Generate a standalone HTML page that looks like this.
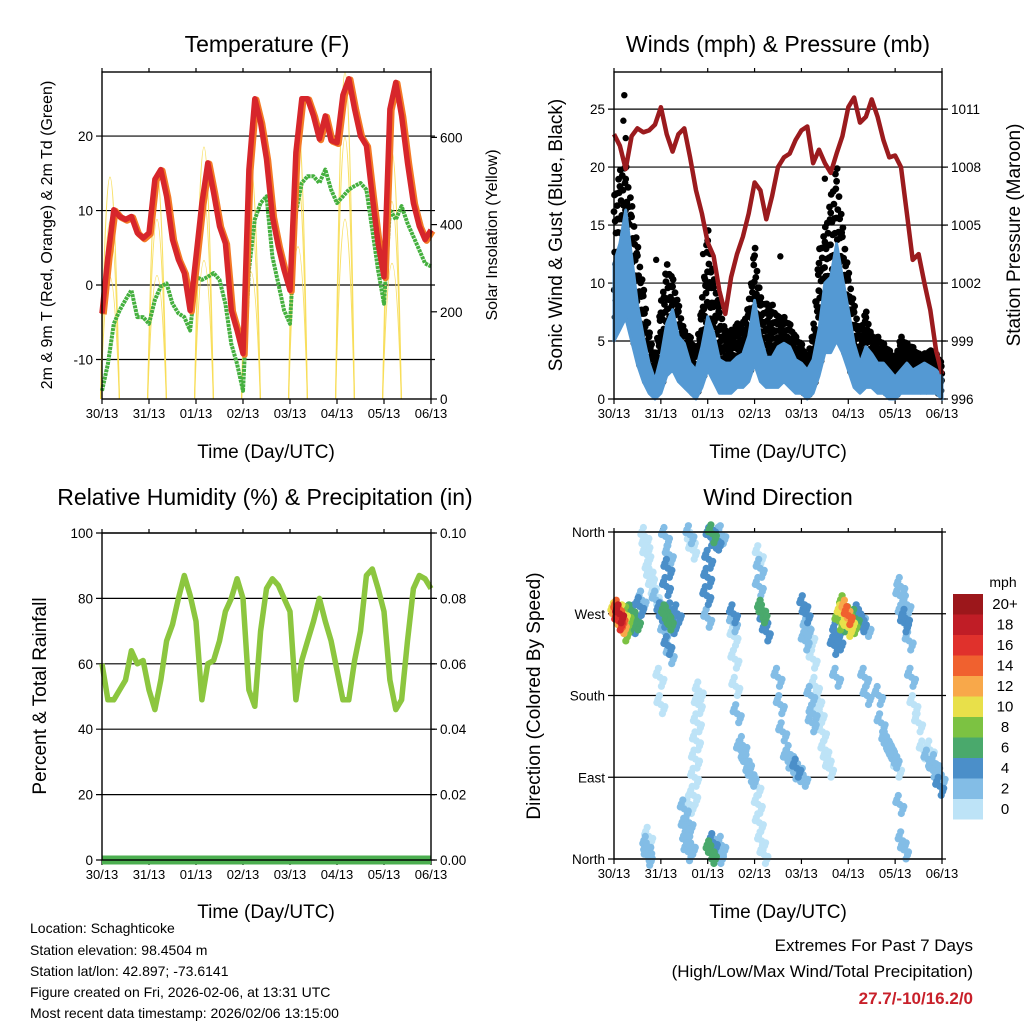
<!DOCTYPE html>
<html><head><meta charset="utf-8"><style>
html,body{margin:0;padding:0;background:#fff;}
svg{display:block;font-family:"Liberation Sans",sans-serif;}
</style></head><body>
<svg id="chart" width="1024" height="1024" viewBox="0 0 1024 1024" xmlns="http://www.w3.org/2000/svg">
<rect width="1024" height="1024" fill="#fff"/>
<text x="267" y="52" font-size="23" text-anchor="middle">Temperature (F)</text>
<text x="778" y="52" font-size="23" text-anchor="middle">Winds (mph) &amp; Pressure (mb)</text>
<text x="265" y="505" font-size="23" text-anchor="middle">Relative Humidity (%) &amp; Precipitation (in)</text>
<text x="778" y="505" font-size="23" text-anchor="middle">Wind Direction</text>
<text x="266" y="458" font-size="19" text-anchor="middle">Time (Day/UTC)</text>
<text x="778" y="458" font-size="19" text-anchor="middle">Time (Day/UTC)</text>
<text x="266" y="918" font-size="19" text-anchor="middle">Time (Day/UTC)</text>
<text x="778" y="918" font-size="19" text-anchor="middle">Time (Day/UTC)</text>
<text transform="translate(52,235) rotate(-90)" font-size="16" text-anchor="middle">2m &amp; 9m T (Red, Orange) &amp; 2m Td (Green)</text>
<text transform="translate(497,235) rotate(-90)" font-size="16" text-anchor="middle">Solar Insolation (Yellow)</text>
<text transform="translate(562,235) rotate(-90)" font-size="19" text-anchor="middle">Sonic Wind &amp; Gust (Blue, Black)</text>
<text transform="translate(1020,235) rotate(-90)" font-size="19" text-anchor="middle">Station Pressure (Maroon)</text>
<text transform="translate(46,696) rotate(-90)" font-size="19" text-anchor="middle">Percent &amp; Total Rainfall</text>
<text transform="translate(540,696) rotate(-90)" font-size="19" text-anchor="middle">Direction (Colored By Speed)</text>
<g font-size="14">
<text x="30" y="933">Location: Schaghticoke</text>
<text x="30" y="955">Station elevation: 98.4504 m</text>
<text x="30" y="976">Station lat/lon: 42.897; -73.6141</text>
<text x="30" y="997">Figure created on Fri, 2026-02-06, at 13:31 UTC</text>
<text x="30" y="1018">Most recent data timestamp: 2026/02/06 13:15:00</text>
</g>
<g font-size="17" text-anchor="end">
<text x="973" y="951">Extremes For Past 7 Days</text>
<text x="973" y="977">(High/Low/Max Wind/Total Precipitation)</text>
<text x="973" y="1004" fill="#c8202a" font-weight="bold">27.7/-10/16.2/0</text>
</g>
<g id="layer"></g>
</svg>
<script>
// ===== data =====
const dayLabels = ["30/13","31/13","01/13","02/13","03/13","04/13","05/13","06/13"];
const tempF = [-3.8,3.8,10.1,9.2,8.8,9.2,7,6.3,7,14.2,15.5,11.9,6.1,3.4,1.6,-3.4,3.8,11,16.4,12.4,7.9,5.6,-3.4,-6.1,-9.2,15.5,25,21.8,16.9,9.2,5.2,2,-0.7,17.8,25,25,22.7,19.6,22.7,19.4,19.1,25.5,27.7,23.6,20,18.7,11.9,5.6,1.1,23.6,27.2,22.7,16.4,11,7.9,6.1,7.4];
const dewF = [-14.2,-10.6,-5.2,-3.4,-2,-0.7,-4.3,-4.3,-5.2,-2,-0.2,0.2,-2.5,-3.8,-4.3,-6.1,1.1,0.7,1.1,1.6,0.7,-2.5,-7.9,-10.6,-14.2,2,8.8,11,11.9,3.8,0.2,-3.4,-5.2,9.7,13.7,14.6,14.6,13.7,15.5,12.8,11,11.9,12.8,13.3,13.7,12.8,7.4,2,-2.5,10.1,8.8,10.6,8.3,6.5,4.7,2.9,2.5];
const solarPeak = [509,515,578,530,635,750,566];
const pressureMb = [1009.7,1009.1,1007.9,1009.6,1010,1009.8,1009.9,1010.2,1011.1,1009.7,1008.8,1009.7,1010,1008.5,1006.8,1005.6,1004.1,1003.4,1001.6,1000.4,1002.3,1003.5,1004.4,1005.6,1007.2,1006.8,1005.3,1006.5,1008,1008.5,1008.7,1009.4,1009.9,1010.1,1008.2,1008.9,1008.2,1007.7,1008.7,1009.6,1011.1,1011.6,1010.3,1010.6,1011.5,1010.6,1009.4,1008.5,1008.6,1008,1005.6,1003.2,1003.5,1002,1000.6,998.5,997.3];
const windHi = [11.7,13.4,16.3,12.3,8.2,5.4,3.1,1.6,3.6,6.5,7.7,5.4,4.8,3.1,2.5,4.5,7.1,5.7,3.4,3.1,3.1,3.6,3.9,5.4,8.5,5.4,3.6,3.6,4.5,4.8,4.5,3.4,3.1,2.5,3.4,6,10,10.5,13.4,10.5,7.7,4.8,3.1,4.5,3.9,3.1,3.1,2.5,1.9,2.5,3.1,2.5,2.8,3.1,2.8,2.5,1.9];
const windLo = [5,6,7,5,3,1.5,0.5,0,0.5,2,2.5,1.5,1,0.5,0,1,2.5,1.5,0.5,0.5,0.5,1,1,1.5,3,1.5,1,1,1,1.5,1,0.5,0.5,0,0.5,2,4,4,5,4,2.5,1,0.5,1,1,0.5,0.5,0,0,0.5,0.5,0.5,0.5,0.5,0.5,0.5,0];
const gustHi = [17.4,19.7,20.3,16.9,13.4,9.7,5.9,3.6,8.2,11.7,10.5,8.2,5.9,5.4,4.2,8.2,14.9,10.5,8.2,5.9,5.9,6.5,6.5,8.2,13.4,8.8,8.2,8.2,7.1,7.1,6.5,5.4,4.8,3.6,5.9,12.8,14.6,17.4,20.3,15.1,11.1,8.2,5.9,7.7,5.4,5.4,4.8,4.2,3.6,5.4,4.8,4.5,3.9,3.9,4.2,3.9,3.1];
const gustOutlierDay = [0.2,0.22,0.25,0.9,1.9,3.55,4.5];
const gustOutlierVal = [24,26.2,22.5,12,12.5,12.3,19];
const rhPct = [60,49,49,52,55,64,60,61,52,46,55,67,72,80,87,81,73,49,60,61,67,76,80,86,80,52,47,70,83,86,84,80,76,49,61,67,73,80,73,67,58,49,49,61,70,87,89,83,76,55,46,49,67,83,87,86,83];
const precipIn = [0,0,0,0,0,0,0,0];
const dirDay = [0.02,0.05,0.08,0.1,0.12,0.15,0.18,0.2,0.22,0.25,0.28,0.32,0.35,0.38,0.42,0.45,0.48,0.55,0.6,
0.66,0.68,0.7,0.75,0.78,0.82,0.88,0.9,
1.0,1.05,1.1,1.13,1.18,1.22,1.25,1.3,1.35,1.08,1.15,1.2,1.12,1.15,1.18,1.1,0.98,1.0,
0.7,0.72,0.74,0.73,
1.5,1.52,1.55,1.58,1.6,1.65,1.62,1.7,1.72,1.74,1.76,1.78,1.8,1.82,1.62,1.65,1.68,
2.05,2.1,2.15,2.2,2.25,2.3,2.02,2.0,1.98,2.0,
2.05,2.1,2.12,2.18,2.25,2.3,
2.55,2.55,2.56,2.58,2.6,2.63,2.7,2.8,2.9,2.95,2.75,2.85,
3.05,3.08,3.1,3.15,3.2,
3.1,3.15,3.18,3.2,3.25,3.12,3.1,
3.5,3.55,3.6,3.7,3.8,3.9,3.95,4.05,3.75,3.85,
4.05,4.1,4.12,4.08,
4.2,4.25,4.3,4.35,4.4,4.45,4.5,4.6,4.2,4.25,4.23,4.55,
4.7,4.75,4.8,4.85,4.9,4.95,5.0,5.05,5.1,5.15,5.2,5.3,5.4,4.8,4.75,5.35,5.4,4.9,5.0,5.25,
5.65,5.7,5.8,5.9,6.0,6.05,5.85,5.95,
6.1,6.15,6.2,6.25,6.3,6.35,6.4,6.5,6.6,6.12,6.22,
6.7,6.8,6.9,6.95,6.98,6.75,6.85,
6.1,6.15,6.2];
const dirDeg = [272,268,275,262,270,265,258,270,250,262,268,260,270,265,258,270,262,278,285,
355,345,335,318,310,300,290,285,
272,265,270,268,262,272,258,265,270,250,235,225,300,320,335,355,200,170,
15,8,25,3,
55,35,20,8,40,15,60,70,90,110,130,150,170,185,357,350,340,
355,358,352,350,355,357,330,310,290,265,
10,5,18,12,5,15,
270,260,245,220,190,160,120,110,95,90,125,105,
80,60,40,20,5,
300,275,270,262,250,320,335,
200,170,140,110,105,100,95,90,115,98,
280,270,255,240,
245,220,190,175,160,140,120,100,180,160,150,110,
235,250,262,270,260,275,268,262,258,265,270,260,255,240,200,200,180,280,255,265,
180,150,130,120,110,100,125,115,
290,270,260,280,240,200,170,150,120,300,265,
110,100,95,80,90,120,105,
60,20,10];
const dirSpd = [10,12,14,16,18,14,12,10,9,8,9,7,6,6,5,4,6,4,3,
1,1,0,1,0,1,1,2,
4,5,6,7,6,5,4,3,4,3,4,3,4,4,3,3,1,1,
2,2,1,2,
3,3,2,2,2,3,1,1,1,1,0,1,1,1,2,1,1,
5,7,4,5,3,3,4,5,4,3,
7,6,4,3,3,2,
4,3,1,1,1,2,2,2,3,3,2,3,
1,1,1,1,1,
3,6,7,5,4,2,1,
2,2,2,2,3,4,2,2,3,3,
4,4,3,3,
1,1,1,0,1,0,1,0,2,2,3,1,
4,5,8,10,7,12,14,10,8,6,5,4,3,4,3,2,2,9,11,5,
2,2,2,2,2,1,3,2,
2,3,4,2,2,2,1,1,1,3,4,
2,2,3,4,3,1,2,
2,2,2];
const speedLabels = ["20+","18","16","14","12","10","8","6","4","2","0"];
const speedColors = ["#9c171b","#c01d26","#e0312c","#f0612f","#f8a84a","#e8e04a","#7cc242","#4aa96c","#4b8fc9","#83bde6","#bde3f7"];

// ===== scales =====
const NS = "http://www.w3.org/2000/svg";
const layer = document.getElementById('layer');
function mk(tag, attrs, parent){ const e=document.createElementNS(NS,tag); for(const k in attrs) e.setAttribute(k,attrs[k]); (parent||layer).appendChild(e); return e; }
const P1={x0:102,x1:431,y0:72,y1:399}, P2={x0:614,x1:942,y0:72,y1:399}, P3={x0:102,x1:431,y0:533,y1:860}, P4={x0:614,x1:942,y0:532,y1:859};
const dx=(P,d)=>P.x0+d*(P.x1-P.x0)/7;
const yTemp=v=>P1.y1-(v+15.3)*(P1.y1-P1.y0)/43.9;
const ySolar=v=>P1.y1-v*(P1.y1-P1.y0)/750;
const yWind=v=>P2.y1-v*(P2.y1-P2.y0)/28.2;
const yPres=p=>P2.y1-(p-996)*(P2.y1-P2.y0)/16.92;
const yRH=v=>P3.y1-v*(P3.y1-P3.y0)/100;
const yPrec=v=>P3.y1-v*(P3.y1-P3.y0)/0.1;
const yDir=d=>P4.y1-d*(P4.y1-P4.y0)/360;
const tOf=i=>i/8;
function colorFor(s){ const idx=Math.min(10,Math.max(0,10-Math.floor(s/2))); return speedColors[idx]; }
function line(P,arr,yf){ return arr.map((v,i)=>(i?'L':'M')+dx(P,tOf(i)).toFixed(1)+','+yf(v).toFixed(1)).join(''); }

function frame(P,key,gridVals,yf,leftLabels,rightVals,ryf,rightLabels){
  const g=mk('g',{});
  
  
  gridVals.forEach((v,i)=>{
    const y=yf(v);
    const gl=mk('line',{x1:P.x0-6,x2:P.x1+4,y1:y,y2:y,stroke:'#000','stroke-width':1.2},g);
    
    
    const t=mk('text',{x:P.x0-9,y:y+5,'font-size':13.5,'text-anchor':'end'},g);
    
    
    t.textContent=leftLabels[i];
  });
  if(rightVals){ rightVals.forEach((v,i)=>{
    const y=ryf(v);
    mk('line',{x1:P.x1,x2:P.x1+6,y1:y,y2:y,stroke:'#000','stroke-width':1.2},g);
    const t=mk('text',{x:P.x1+9,y:y+5,'font-size':13.5},g);
    
    
    t.textContent=rightLabels[i];
  });}
  dayLabels.forEach((lab,i)=>{
    const x=dx(P,i);
    mk('line',{x1:x,x2:x,y1:P.y1,y2:P.y1+5,stroke:'#000','stroke-width':1.2},g);
    mk('line',{x1:x,x2:x,y1:P.y0,y2:P.y0-4,stroke:'#000','stroke-width':1.2},g);
    const t=mk('text',{x:x,y:P.y1+19,'font-size':13,'text-anchor':'middle'},g);
    
    
    t.textContent=lab;
  });
  return g;
}
function border(P,key){
  const r=mk('rect',{x:P.x0,y:P.y0,width:P.x1-P.x0,height:P.y1-P.y0,fill:'none',stroke:'#000','stroke-width':1.4});
  
  
}
frame(P1,'temp',[20,10,0,-10],yTemp,["20","10","0","-10"],[600,400,200,0],ySolar,["600","400","200","0"]);
frame(P2,'winds',[25,20,15,10,5,0],yWind,["25","20","15","10","5","0"],[1011,1008,1005,1002,999,996],yPres,["1011","1008","1005","1002","999","996"]);
frame(P3,'rh',[100,80,60,40,20,0],yRH,["100","80","60","40","20","0"],[0.1,0.08,0.06,0.04,0.02,0],yPrec,["0.10","0.08","0.06","0.04","0.02","0.00"]);
frame(P4,'dir',[360,270,180,90,0],yDir,["North","West","South","East","North"],null);

// ===== Temperature panel =====
solarPeak.forEach((pk,d)=>{
  const t0=d-0.03, tp=d+0.17, t1=d+0.37;
  [1,0.8,0.55].forEach(s=>{
    const sp=mk('path',{d:'M'+dx(P1,t0)+','+ySolar(0)+' Q'+dx(P1,tp)+','+ySolar(pk*2*s)+' '+dx(P1,t1)+','+ySolar(0),fill:'none',stroke:'#f7dd55','stroke-width':1.1,opacity:0.9});
    
    
  });
});
const dew=mk('path',{d:line(P1,dewF,yTemp),fill:'none',stroke:'#45b03f','stroke-width':4,'stroke-dasharray':'3 0.8','stroke-linejoin':'round'});


const t9=mk('path',{d:line(P1,tempF,yTemp),fill:'none',stroke:'#f47a26','stroke-width':6.5,'stroke-linejoin':'round',transform:'translate(1.5,1)'});


const t2=mk('path',{d:line(P1,tempF,yTemp),fill:'none',stroke:'#d7262b','stroke-width':5.5,'stroke-linejoin':'round'});


border(P1,'temp');

// ===== Winds panel =====
const frac=[0.9,0.35,1.0,0.6,0.15,0.8,0.5,0.25,0.7,0.05,0.95,0.45,0.55,0.85,0.3,0.75,0.1,0.65,0.4,0.98,0.2,0.88,0.5,0.7];
for(let i=0;i<gustHi.length-1;i++){
  for(let k=0;k<frac.length;k++){
    const f=k/frac.length, t=tOf(i+f);
    const hi=gustHi[i]+(gustHi[i+1]-gustHi[i])*f;
    const lo=windLo[i]+(windLo[i+1]-windLo[i])*f;
    const v=lo+frac[k]*(hi-lo);
    const c=mk('circle',{cx:dx(P2,t).toFixed(1),cy:yWind(v).toFixed(1),r:3.4,fill:'#000'});
    
    
  }
}
gustOutlierDay.forEach((d,i)=>{
  const c=mk('circle',{cx:dx(P2,d),cy:yWind(gustOutlierVal[i]),r:3.2,fill:'#000'});
  
  
});
let band=windHi.map((v,i)=>(i?'L':'M')+dx(P2,tOf(i)).toFixed(1)+','+yWind(v).toFixed(1)).join('');
for(let i=windLo.length-1;i>=0;i--) band+='L'+dx(P2,tOf(i)).toFixed(1)+','+yWind(windLo[i]).toFixed(1);
const wb=mk('path',{d:band+'Z',fill:'#5499d3',stroke:'#5499d3','stroke-width':3,'stroke-linejoin':'round'});


const pr=mk('path',{d:line(P2,pressureMb,yPres),fill:'none',stroke:'#9b1b1e','stroke-width':4.5,'stroke-linejoin':'round'});


border(P2,'winds');

// ===== RH panel =====
const pl=mk('path',{d:precipIn.map((v,i)=>(i?'L':'M')+dx(P3,i)+','+yPrec(v)).join(''),fill:'none',stroke:'#4caf50','stroke-width':9});


const rl=mk('path',{d:line(P3,rhPct,yRH),fill:'none',stroke:'#8cc63f','stroke-width':5.5,'stroke-linejoin':'round'});


border(P3,'rh');

// ===== Wind direction panel =====
const jx=[0,3,-3,1.5,-1.5,4,-4];
const jy=[0,5,-5,9,-9,2,-2];
const order=dirSpd.map((s,i)=>i).sort((a,b)=>dirSpd[a]-dirSpd[b]);
order.forEach(i=>{
  for(let k=0;k<jx.length;k++){
    const c=mk('circle',{cx:(dx(P4,dirDay[i])+jx[k]).toFixed(1),cy:(yDir(dirDeg[i])+jy[k]).toFixed(1),r:3.6,fill:colorFor(dirSpd[i])});
    
    
  }
});
border(P4,'dir');
const lg=mk('g',{});


const lt=mk('text',{x:1003,y:587,'font-size':14,'text-anchor':'middle'},lg);
lt.textContent='mph';
speedLabels.forEach((lab,i)=>{
  const y=594+i*20.5;
  const r=mk('rect',{x:953,y:y,width:30,height:20.5,fill:speedColors[i]},lg);
  
  
  const t=mk('text',{x:1005,y:y+15,'font-size':15,'text-anchor':'middle'},lg);
  
  
  t.textContent=lab;
});
</script>
</body></html>
